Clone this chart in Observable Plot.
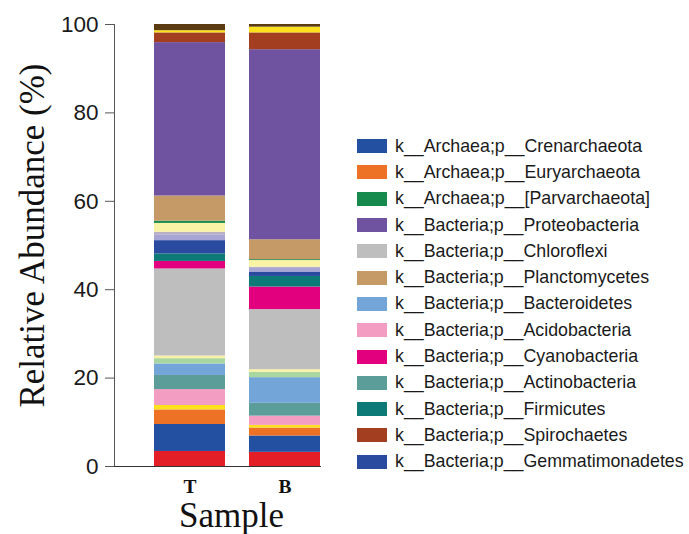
<!DOCTYPE html>
<html>
<head>
<meta charset="utf-8">
<script src="https://cdn.jsdelivr.net/npm/d3@7"></script>
<script src="https://cdn.jsdelivr.net/npm/@observablehq/plot@0.6"></script>
<style>
  body { margin: 0; background: #fff; }
  #wrap { position: relative; width: 689px; height: 534px; }
  #chart { position: absolute; left: 0; top: 0; }
  #legend { position: absolute; left: 357px; top: 133px; font-family: "Liberation Sans", Arial, sans-serif; font-size: 17.8px; color: #1a1a1a; }
  .row { display: flex; align-items: center; height: 26.3px; white-space: nowrap; }
  .sw { width: 30px; height: 14px; margin-right: 8px; flex: none; }
</style>
</head>
<body>
<div id="wrap"><div id="chart"></div><div id="legend"></div></div>
<script>
// Samples on the x axis
const samples = ["T", "B"];

// Phyla in stacking order, bottom to top
const phyla = [
  "k__Bacteria;p__Nitrospirae",
  "k__Archaea;p__Crenarchaeota",
  "k__Archaea;p__Euryarchaeota",
  "k__Bacteria;p__Verrucomicrobia",
  "k__Bacteria;p__Acidobacteria",
  "k__Bacteria;p__Actinobacteria",
  "k__Bacteria;p__Bacteroidetes",
  "k__Bacteria;p__Chlorobi",
  "k__Bacteria;p__OD1",
  "k__Bacteria;p__Chloroflexi",
  "k__Bacteria;p__Cyanobacteria",
  "k__Bacteria;p__Firmicutes",
  "k__Bacteria;p__Gemmatimonadetes",
  "k__Bacteria;p__WS3",
  "k__Bacteria;p__TM7",
  "k__Bacteria;p__Armatimonadetes",
  "k__Archaea;p__[Parvarchaeota]",
  "k__Bacteria;p__Planctomycetes",
  "k__Bacteria;p__Proteobacteria",
  "k__Bacteria;p__Spirochaetes",
  "k__Bacteria;p__Nitrospinae",
  "k__Bacteria;p__Others"
];

const colors = [
  "#e31e26", "#2450a2", "#ee7226", "#fde11c", "#f39dc3", "#5a9d99",
  "#74a5d8", "#a9d7a2", "#f8f1a6", "#bebebe", "#e3007e", "#0e7a77",
  "#2a4aa0", "#a7a4d6", "#b8b0c6", "#f9f3a6", "#168a4c", "#c59a66",
  "#6f53a0", "#a43e21", "#fde11c", "#5a3b12"
];

// Relative abundance (%) per phylum, same order as phyla
const valuesT = [3.4, 6.1, 3.3, 1.0, 3.6, 3.2, 2.6, 1.2, 0.6, 19.7, 1.7, 1.7, 3.0, 1.2, 0.7, 2.0, 0.5, 5.7, 34.7, 2.2, 0.5, 1.4];
const valuesB = [3.2, 3.7, 1.8, 0.6, 2.1, 2.9, 5.8, 1.2, 0.6, 13.6, 5.1, 2.4, 1.0, 0.8, 0.3, 1.5, 0.2, 4.5, 43.0, 3.8, 1.3, 0.6];

// Phyla shown in the legend
const legendPhyla = [
  "k__Archaea;p__Crenarchaeota",
  "k__Archaea;p__Euryarchaeota",
  "k__Archaea;p__[Parvarchaeota]",
  "k__Bacteria;p__Proteobacteria",
  "k__Bacteria;p__Chloroflexi",
  "k__Bacteria;p__Planctomycetes",
  "k__Bacteria;p__Bacteroidetes",
  "k__Bacteria;p__Acidobacteria",
  "k__Bacteria;p__Cyanobacteria",
  "k__Bacteria;p__Actinobacteria",
  "k__Bacteria;p__Firmicutes",
  "k__Bacteria;p__Spirochaetes",
  "k__Bacteria;p__Gemmatimonadetes"
];

const yTicks = [0, 20, 40, 60, 80, 100];

const rows = [];
phyla.forEach((p, i) => {
  rows.push({sample: "T", phylum: p, value: valuesT[i]});
  rows.push({sample: "B", phylum: p, value: valuesB[i]});
});

const serif = "'Liberation Serif', 'Times New Roman', serif";
const sans = "'Liberation Sans', Arial, sans-serif";

const chart = Plot.plot({
  width: 340,
  height: 534,
  marginTop: 24,
  marginBottom: 68,
  marginLeft: 114,
  marginRight: 20,
  style: {background: "#fff", color: "#333"},
  x: {domain: samples, paddingInner: 0.25, paddingOuter: 0.198, align: 1, label: null},
  y: {domain: [0, 100], label: null},
  color: {domain: phyla, range: colors},
  marks: [
    Plot.barY(rows, {x: "sample", y: "value", fill: "phylum", inset: 0}),
    Plot.frame({anchor: "left", stroke: "#555"}),
    Plot.frame({anchor: "bottom", stroke: "#333"}),
    Plot.axisY({ticks: yTicks, tickSize: 9, tickPadding: 7, fontSize: 22.5, fontFamily: sans, label: null, stroke: "#555", color: "#1a1a1a"}),
    Plot.axisX({tickSize: 0, tickPadding: 13, fontSize: 19.5, fontWeight: "bold", fontFamily: serif, label: null, color: "#111"}),
    Plot.text(["Relative Abundance (%)"], {frameAnchor: "left", textAnchor: "middle", dx: -82, dy: -10, rotate: -90, fontSize: 35, fontFamily: serif, fill: "#111"}),
    Plot.text(["Sample"], {frameAnchor: "bottom", dx: 14, dy: 60, fontSize: 35, fontFamily: serif, fill: "#111"})
  ]
});
document.getElementById("chart").appendChild(chart);

// Legend: one swatch and label per listed phylum
const legend = document.getElementById("legend");
legendPhyla.forEach(p => {
  const row = document.createElement("div");
  row.className = "row";
  const sw = document.createElement("span");
  sw.className = "sw";
  sw.style.background = colors[phyla.indexOf(p)];
  const label = document.createElement("span");
  label.textContent = p;
  row.appendChild(sw);
  row.appendChild(label);
  legend.appendChild(row);
});
</script>
</body>
</html>
